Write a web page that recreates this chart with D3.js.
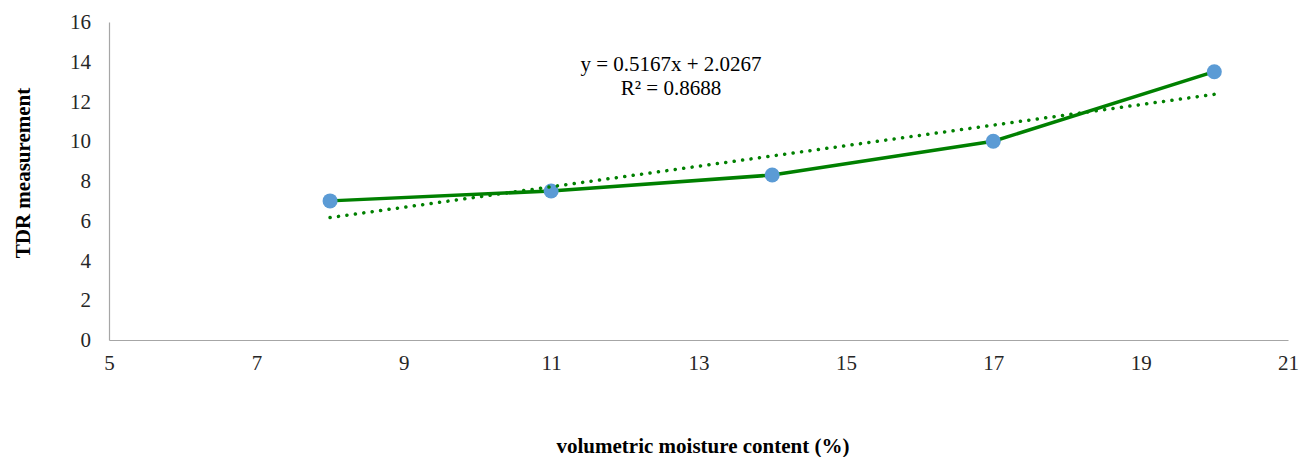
<!DOCTYPE html>
<html>
<head>
<meta charset="utf-8">
<script src="https://cdn.jsdelivr.net/npm/d3@7"></script>
<style>
  body { margin: 0; background: #fff; }
  svg { display: block; font-family: "Liberation Serif", "Times New Roman", serif; }
</style>
</head>
<body>
<div id="chart"></div>
<script>
// data
const moisture = [8, 11, 14, 17, 20];
const tdr = [7, 7.5, 8.3, 10, 13.5];
const xTicks = [5, 7, 9, 11, 13, 15, 17, 19, 21];
const yTicks = [0, 2, 4, 6, 8, 10, 12, 14, 16];
const trendSlope = 0.5167;
const trendIntercept = 2.0267;
const trendLabel = ['y = 0.5167x + 2.0267', 'R² = 0.8688'];

const width = 1300, height = 457;
const margin = { top: 22, right: 12, bottom: 117, left: 109 };

const svg = d3.select('#chart').append('svg')
  .attr('width', width)
  .attr('height', height);

const x = d3.scaleLinear().domain([5, 21]).range([margin.left, width - margin.right]);
const y = d3.scaleLinear().domain([0, 16]).range([height - margin.bottom, margin.top]);

// axes
const xAxis = svg.append('g')
  .attr('transform', `translate(0,${y(0)})`)
  .call(d3.axisBottom(x).tickValues(xTicks).tickSize(0).tickPadding(15));
const yAxis = svg.append('g')
  .attr('transform', `translate(${x(5)},0)`)
  .call(d3.axisLeft(y).tickValues(yTicks).tickSize(0).tickPadding(18));

[xAxis, yAxis].forEach(g => {
  g.select('.domain').attr('stroke', '#a6a6a6').attr('stroke-width', 1.2);
  g.selectAll('text')
    .attr('fill', '#262626')
    .style('font-family', '"Liberation Serif", serif')
    .style('font-size', '21px');
});

// data line
const pts = moisture.map((d, i) => ({ x: d, y: tdr[i] }));
svg.append('path')
  .datum(pts)
  .attr('fill', 'none')
  .attr('stroke', '#008000')
  .attr('stroke-width', 3.5)
  .attr('stroke-linejoin', 'round')
  .attr('d', d3.line()
    .x(d => x(d.x))
    .y(d => y(d.y)));

// markers
svg.selectAll('circle.pt')
  .data(pts)
  .enter()
  .append('circle')
  .attr('class', 'pt')
  .attr('cx', d => x(d.x))
  .attr('cy', d => y(d.y))
  .attr('r', 7.5)
  .attr('fill', '#5b9bd5');

// linear trendline
const xMin = d3.min(moisture), xMax = d3.max(moisture);
svg.append('line')
  .attr('x1', x(xMin))
  .attr('y1', y(trendSlope * xMin + trendIntercept))
  .attr('x2', x(xMax))
  .attr('y2', y(trendSlope * xMax + trendIntercept))
  .attr('stroke', '#008000')
  .attr('stroke-width', 3.5)
  .attr('stroke-linecap', 'round')
  .attr('stroke-dasharray', '0.1 8.4');

// equation label
svg.append('text')
  .attr('x', 671)
  .attr('y', 71)
  .attr('text-anchor', 'middle')
  .style('font-size', '21px')
  .attr('fill', '#000')
  .selectAll('tspan')
  .data(trendLabel)
  .enter()
  .append('tspan')
  .attr('x', 671)
  .attr('dy', (d, i) => i === 0 ? 0 : 24)
  .text(d => d);

// axis titles
svg.append('text')
  .attr('x', 703)
  .attr('y', 453)
  .attr('text-anchor', 'middle')
  .style('font-size', '21px')
  .style('font-weight', 'bold')
  .text('volumetric moisture content (%)');

svg.append('text')
  .attr('transform', 'translate(30,173) rotate(-90)')
  .attr('text-anchor', 'middle')
  .style('font-size', '21px')
  .style('font-weight', 'bold')
  .text('TDR measurement');
</script>
</body>
</html>
